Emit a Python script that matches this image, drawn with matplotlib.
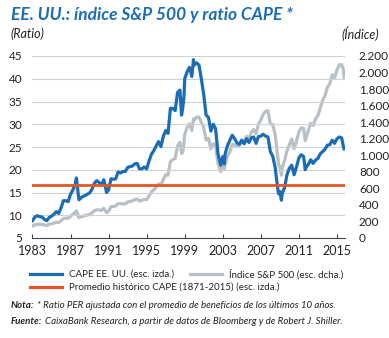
import matplotlib
matplotlib.use("Agg")
import matplotlib.pyplot as plt
from matplotlib.ticker import FuncFormatter

# ---- data (approx.) ----
cape_t = [1983.0, 1983.25, 1983.5, 1983.75,
          1984.0, 1984.25, 1984.5, 1984.75,
          1985.0, 1985.25, 1985.5, 1985.75,
          1986.0, 1986.25, 1986.5, 1986.75,
          1987.0, 1987.25, 1987.5, 1987.62, 1987.79, 1987.88,
          1988.0, 1988.25, 1988.5, 1988.75,
          1989.0, 1989.25, 1989.5, 1989.75,
          1990.0, 1990.25, 1990.5, 1990.79,
          1991.0, 1991.25, 1991.5, 1991.75,
          1992.0, 1992.25, 1992.5, 1992.75,
          1993.0, 1993.25, 1993.5, 1993.75,
          1994.0, 1994.25, 1994.5, 1994.75,
          1995.0, 1995.25, 1995.5, 1995.75,
          1996.0, 1996.25, 1996.5, 1996.75,
          1997.0, 1997.25, 1997.5, 1997.75,
          1998.0, 1998.25, 1998.5, 1998.67, 1998.79, 1998.92,
          1999.0, 1999.25, 1999.5, 1999.75, 1999.92,
          2000.0, 2000.25, 2000.5, 2000.75,
          2001.0, 2001.25, 2001.5, 2001.75,
          2002.0, 2002.25, 2002.5, 2002.79,
          2003.0, 2003.17, 2003.25, 2003.5, 2003.75,
          2004.0, 2004.25, 2004.5, 2004.75,
          2005.0, 2005.25, 2005.5, 2005.75,
          2006.0, 2006.25, 2006.5, 2006.75,
          2007.0, 2007.25, 2007.5, 2007.75,
          2008.0, 2008.25, 2008.5, 2008.79, 2008.88,
          2009.0, 2009.17, 2009.25, 2009.5, 2009.75,
          2010.0, 2010.25, 2010.5, 2010.75,
          2011.0, 2011.25, 2011.5, 2011.67, 2011.75,
          2012.0, 2012.25, 2012.5, 2012.75,
          2013.0, 2013.25, 2013.5, 2013.75,
          2014.0, 2014.25, 2014.5, 2014.75,
          2015.0, 2015.25, 2015.5, 2015.67, 2015.75]
cape = [8.8, 9.6, 9.9, 9.7,
        9.6, 9.1, 8.8, 9.5,
        9.8, 10.2, 10.8, 10.4,
        11.6, 13.2, 13.2, 13.0,
        14.6, 15.6, 16.9, 18.2, 15.1, 13.4,
        13.6, 14.1, 14.3, 14.6,
        14.9, 15.7, 17.0, 17.6,
        17.2, 16.7, 17.8, 15.0,
        15.6, 18.0, 17.9, 18.0,
        19.5, 19.3, 19.6, 19.6,
        20.5, 20.7, 20.8, 21.3,
        21.4, 20.2, 20.2, 20.6,
        20.2, 21.9, 23.4, 24.2,
        25.2, 26.2, 25.1, 27.3,
        28.6, 28.0, 33.5, 33.5,
        33.0, 37.0, 37.5, 32.0, 33.5, 36.0,
        40.0, 41.5, 42.5, 40.5, 44.2,
        43.0, 43.5, 43.0, 40.0,
        36.5, 32.0, 31.5, 28.5,
        30.0, 29.0, 23.5, 21.0,
        22.9, 21.3, 23.5, 25.3, 26.5,
        27.6, 26.8, 25.9, 25.6,
        26.5, 25.7, 26.8, 26.0,
        27.0, 27.2, 25.8, 27.3,
        27.4, 27.8, 27.4, 27.2,
        24.0, 23.0, 20.6, 15.7, 14.7,
        15.2, 13.3, 14.8, 16.1, 18.9,
        20.3, 21.0, 18.9, 20.6,
        22.6, 23.3, 22.9, 20.0, 20.5,
        21.2, 22.2, 21.4, 22.1,
        22.5, 23.5, 24.0, 24.5,
        25.4, 25.5, 26.5, 25.8,
        26.8, 27.2, 27.0, 25.2, 24.6]

sp_t = list(cape_t)
sp500 = [145, 160, 166, 165,
         164, 158, 151, 166,
         171, 180, 192, 186,
         208, 237, 240, 237,
         265, 286, 310, 330, 280, 245,
         250, 262, 270, 278,
         285, 302, 331, 340,
         340, 332, 360, 307,
         325, 379, 381, 387,
         416, 412, 415, 411,
         435, 442, 448, 464,
         472, 448, 454, 466,
         465, 508, 556, 582,
         614, 654, 640, 706,
         766, 760, 925, 947,
         963, 1112, 1156, 1020, 1032, 1150,
         1248, 1335, 1380, 1300, 1440,
         1425, 1461, 1463, 1396,
         1335, 1185, 1205, 1076,
         1140, 1112, 903, 800,
         895, 837, 890, 993, 1039,
         1132, 1126, 1106, 1118,
         1181, 1163, 1228, 1199,
         1278, 1312, 1260, 1377,
         1425, 1495, 1531, 1539,
         1380, 1371, 1257, 968, 883,
         866, 757, 848, 936, 1058,
         1124, 1198, 1080, 1172,
         1283, 1331, 1325, 1175, 1207,
         1300, 1387, 1360, 1440,
         1480, 1570, 1668, 1720,
         1822, 1864, 1973, 1937,
         2028, 2094, 2095, 2040, 1944]

cape_hist_avg = 16.6
left_ticks = [5, 10, 15, 20, 25, 30, 35, 40, 45]
right_ticks = [0, 200, 400, 600, 800, 1000, 1200, 1400, 1600, 1800, 2000, 2200]
year_ticks = [1983, 1987, 1991, 1995, 1999, 2003, 2007, 2011, 2015]

# ---- style ----
FONT = ['Lato', 'Open Sans', 'DejaVu Sans']
plt.rcParams['font.family'] = FONT
BLUE = '#1a6db5'
GREY = '#b9c0c5'
ORANGE = '#e8542a'
TXT = '#222222'

W, H = 389, 338
fig = plt.figure(figsize=(W / 100, H / 100), dpi=100)
fig.patch.set_facecolor('white')

ax = fig.add_axes([32 / W, 1 - 238 / H, (345 - 32) / W, (238 - 56) / H])
ax.set_xlim(1982.95, 2015.85)
ax.set_ylim(5, 45)
ax2 = ax.twinx()
ax2.set_ylim(0, 2200)

for y in left_ticks[1:]:
    ax.axhline(y, color='#d0d0d0', lw=0.8, zorder=0)

ax2.plot(sp_t, sp500, color=GREY, lw=2.3, zorder=2, solid_joinstyle='round')
ax.set_zorder(ax2.get_zorder() + 1)
ax.patch.set_visible(False)
ax.plot(cape_t, cape, color=BLUE, lw=2.3, zorder=3, solid_joinstyle='round')
ax.axhline(cape_hist_avg, color=ORANGE, lw=2.0, zorder=4)

for a in (ax, ax2):
    for s in ('top', 'right', 'left', 'bottom'):
        a.spines[s].set_visible(False)
ax.spines['bottom'].set_visible(True)
ax.spines['bottom'].set_color('#444444')
ax.spines['bottom'].set_linewidth(0.8)

ax.set_yticks(left_ticks)
ax.set_yticklabels([str(v) for v in left_ticks])
ax.tick_params(axis='y', length=0, pad=7, labelsize=8.5, labelcolor=TXT)
ax2.set_yticks(right_ticks)
ax2.yaxis.set_major_formatter(FuncFormatter(lambda v, p: f"{int(v):,}".replace(',', '.')))
ax2.tick_params(axis='y', length=0, pad=10, labelsize=8.5, labelcolor=TXT)
ax.set_xticks(year_ticks)
ax.set_xticklabels([str(y) for y in year_ticks])
ax.tick_params(axis='x', direction='in', length=3, width=0.8, color='#444444',
               pad=5, labelsize=9, labelcolor=TXT)

# ---- texts ----
fig.text(11 / W, 1 - 15 / H, 'EE. UU.: índice S&P 500 y ratio CAPE *', color=BLUE,
         fontsize=12.5, fontweight='bold', fontstyle='italic', va='center', ha='left')
fig.text(10 / W, 1 - 34 / H, '(Ratio)', fontsize=9, fontstyle='italic', color=TXT,
         va='center', ha='left')
fig.text(379 / W, 1 - 34 / H, '(Índice)', fontsize=9, fontstyle='italic', color=TXT,
         va='center', ha='right')


def leg(x0, y, color, label):
    fig.add_artist(plt.Line2D([x0 / W, (x0 + 32) / W], [1 - y / H, 1 - y / H],
                              color=color, lw=2.3, transform=fig.transFigure))
    fig.text((x0 + 39) / W, 1 - y / H, label, fontsize=7, color=TXT,
             va='center', ha='left')


leg(30, 274, BLUE, 'CAPE EE. UU. (esc. izda.)')
leg(190, 274, GREY, 'Índice S&P 500 (esc. dcha.)')
leg(30, 287, ORANGE, 'Promedio histórico CAPE (1871-2015) (esc. izda.)')

renderer = fig.canvas.get_renderer()


def note(y, head, body):
    t = fig.text(11 / W, 1 - y / H, head, fontsize=7, fontweight='bold',
                 fontstyle='italic', color=TXT, va='center', ha='left')
    bb = t.get_window_extent(renderer=renderer)
    fig.text((bb.x1 + 3) / W, 1 - y / H, body, fontsize=7, fontstyle='italic',
             color=TXT, va='center', ha='left')


note(305, 'Nota:', '* Ratio PER ajustada con el promedio de beneficios de los últimos 10 años.')
note(322, 'Fuente:', 'CaixaBank Research, a partir de datos de Bloomberg y de Robert J. Shiller.')

fig.savefig('out.png', dpi=100, facecolor='white')
